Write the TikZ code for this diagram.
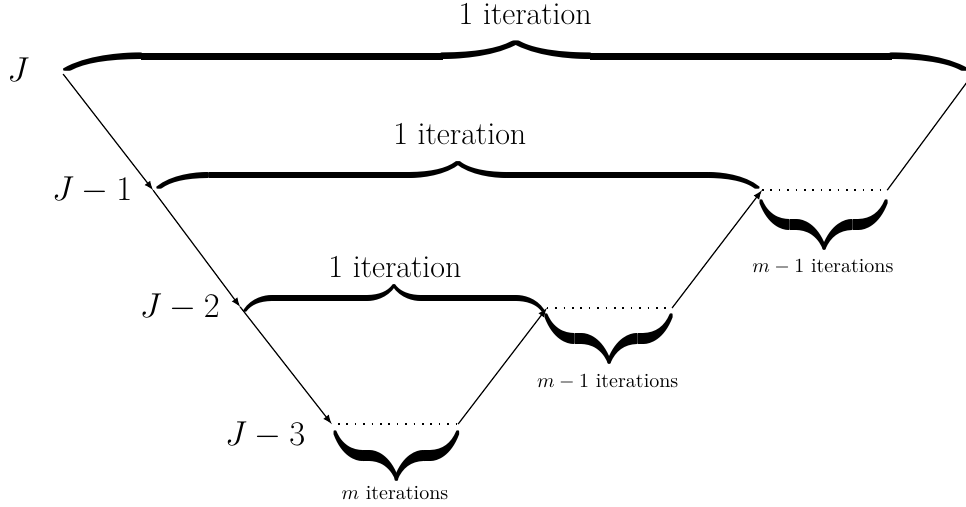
\documentclass[tikz,border=0pt]{standalone}
\usepackage{graphicx}
\newcommand{\topbr}[3]{\resizebox*{#1}{#2}{\hbox to #3{\downbracefill}}}
\newcommand{\lowbr}[3]{\resizebox*{#1}{#2}{\hbox to #3{\upbracefill}}}
\begin{document}
\begin{tikzpicture}[>=latex,
  bigtxt/.style={font=\fontsize{16}{19}\selectfont},
  brace/.style={inner sep=0pt,outer sep=0pt},
  step line/.style={line width=0.6pt},
  dotline/.style={line width=0.8pt,dash pattern=on 0.8pt off 3.4pt}
]
\useasboundingbox (0,0) rectangle (16.975,8.892);
\clip (0,0) rectangle (16.975,8.892);
% levels
\coordinate (l0) at (1.11,7.59);
\coordinate (l1) at (2.69,5.55);
\coordinate (l2) at (4.22,3.50);
\coordinate (l3) at (5.83,1.44);
\node[bigtxt] (lab0) at (0.32,7.66) {$J$};
\node[bigtxt] (lab1) at (1.62,5.55) {$J-1$};
\node[bigtxt] (lab2) at (3.16,3.50) {$J-2$};
\node[bigtxt] (lab3) at (4.66,1.25) {$J-3$};
% dotted parts
\coordinate (d3a) at (5.94,1.44);
\coordinate (d3b) at (8.05,1.44);
\coordinate (d2a) at (9.61,3.48);
\coordinate (d2b) at (11.81,3.48);
\coordinate (d1a) at (13.39,5.55);
\coordinate (d1b) at (15.59,5.55);
\coordinate (d0) at (17.20,7.73);
\draw[dotline] (d3a) -- (d3b);
\draw[dotline] (d2a) -- (d2b);
\draw[dotline] (d1a) -- (d1b);
% path
\draw[step line,->] (l0) -- (l1);
\draw[step line,->] (l1) -- (l2);
\draw[step line,->] (l2) -- (l3);
\draw[step line,->] (d3b) -- (d2a);
\draw[step line,->] (d2b) -- (d1a);
\draw[step line] (d1b) -- (d0);
% one iteration braces
\node[brace,anchor=south west] (b0) at (1.18,7.84) {\topbr{449pt}{3.3pt}{55pt}};
\node[brace,anchor=south west] (b1) at (2.81,5.76) {\topbr{298.5pt}{3pt}{55pt}};
\node[brace,anchor=south west] (b2) at (4.31,3.60) {\topbr{149pt}{3pt}{50pt}};
\node[bigtxt] (it0) at (9.23,8.64) {1 iteration};
\node[bigtxt] (it1) at (8.08,6.53) {1 iteration};
\node[bigtxt] (it2) at (6.94,4.20) {1 iteration};
% inner iterations
\node[brace,anchor=north west] (c3) at (5.89,0.98) {\lowbr{61.5pt}{5.5pt}{20pt}};
\node[brace,anchor=north west] (c2) at (9.61,3.04) {\lowbr{62.5pt}{5.5pt}{20pt}};
\node[brace,anchor=north west] (c1) at (13.39,5.04) {\lowbr{62.5pt}{5.5pt}{20pt}};
\node (m3) at (6.94,0.23) {$m$ iterations};
\node (m2) at (10.68,2.18) {$m-1$ iterations};
\node (m1) at (14.46,4.20) {$m-1$ iterations};
\end{tikzpicture}
\end{document}
